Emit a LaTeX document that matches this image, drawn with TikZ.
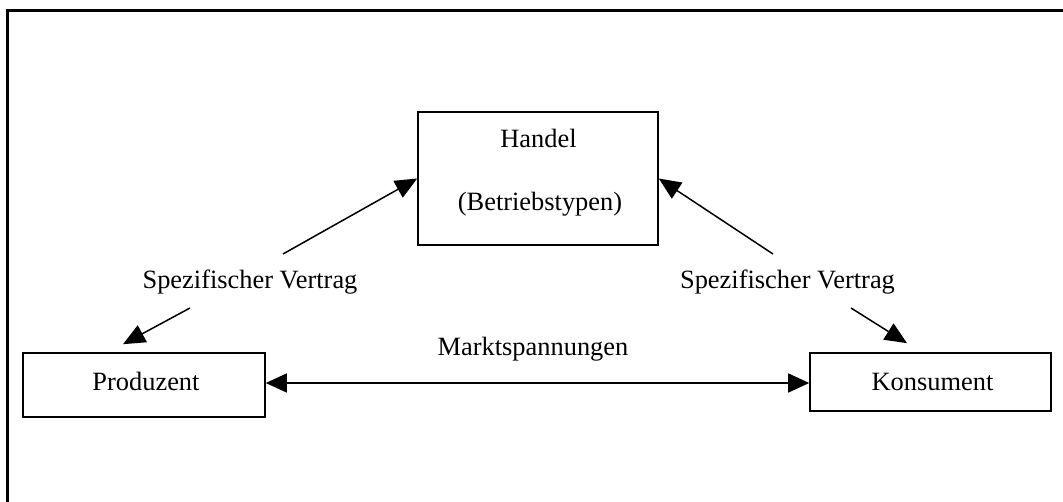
\documentclass[tikz,border=0pt]{standalone}
\usepackage{fontspec}
\setmainfont[Ligatures=NoCommon]{Liberation Serif}
\usetikzlibrary{arrows.meta}
\begin{document}
\begin{tikzpicture}[x=1bp,y=-1bp,
  box/.style={draw, line width=1.6bp, rectangle, inner sep=0pt},
  lbl/.style={anchor=base, inner sep=0pt, font=\fontsize{26.4bp}{32bp}\selectfont},
  arr/.style={line width=1.5bp, -{Triangle[length=22bp,width=19bp]}},
  darr/.style={line width=1.5bp, {Triangle[length=21bp,width=19bp]}-{Triangle[length=21bp,width=19bp]}}]
\useasboundingbox (0,0) rectangle (1063,502);
% frame
\draw[line width=3bp] (7.5,502) -- (7.5,10.5) -- (1063,10.5);
% boxes
\node[box, minimum width=240bp, minimum height=133bp] (handel) at (538,178.5) {};
\node[lbl] (t1) at (538.5,148) {Handel};
\node[lbl] (t2) at (540,210.5) {(Betriebstypen)};
\node[box, minimum width=242bp, minimum height=64bp] (prod) at (144,385) {};
\node[lbl] (tp) at (146,390) {Produzent};
\node[box, minimum width=241bp, minimum height=58bp] (kons) at (930.5,382) {};
\node[lbl] (tk) at (932.5,390) {Konsument};
% labels
\node[lbl] (sv1) at (250,289) {Spezifischer Vertrag};
\node[lbl] (sv2) at (787.5,289) {Spezifischer Vertrag};
\node[lbl] (mk) at (533,356) {Marktspannungen};
% connector ends
\coordinate (a1) at (283,254);
\coordinate (a2) at (773,254);
\coordinate (b1) at (190,308);
\coordinate (b2) at (851,308);
% connectors
\draw[arr] (a1) -- (handel.west);
\draw[arr] (a2) -- (handel.east);
\draw[arr] (b1) -- ([xshift=-21bp,yshift=8bp]prod.north);
\draw[arr] (b2) -- ([xshift=-23.5bp,yshift=9bp]kons.north);
\draw[darr] (prod.east |- 0,383) -- (kons.west |- 0,383);
\end{tikzpicture}
\end{document}
